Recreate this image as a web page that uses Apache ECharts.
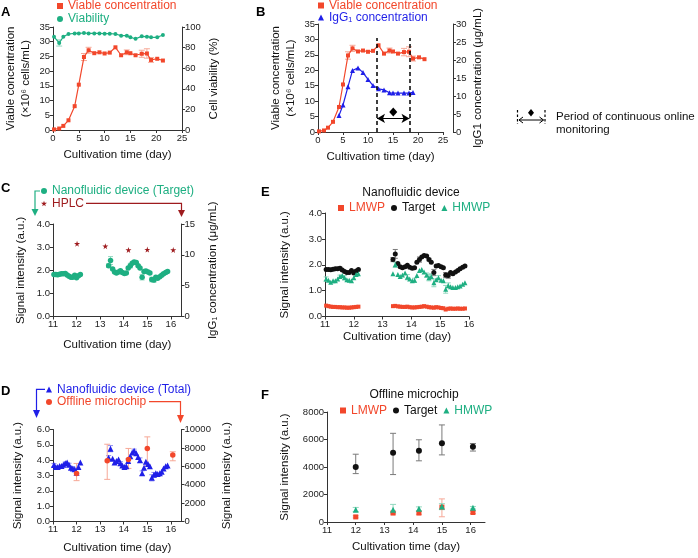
<!DOCTYPE html>
<html><head><meta charset="utf-8">
<script src="https://cdn.jsdelivr.net/npm/echarts@6/dist/echarts.min.js"></script>
<style>html,body{margin:0;padding:0;background:#fff}#c{width:698px;height:558px}</style>
</head><body><div id="c"></div>
<script>
// ---------- DATA ----------
// Panel A / B : batch culture
const daysA = [0.2,1.2,2,3,4.2,5,6,6.9,8,9,10,11,12.1,13.2,14.3,15,16,17.2,18.2,19,20.2,21.3];
const viableConc = [0.2,0.5,1.4,3.3,8.1,15.4,24.8,27.1,26.1,26.4,26.0,26.3,28.1,25.4,26.4,26.1,25.4,25.9,26.0,23.8,24.2,23.6];
const viableErr  = [0,0,0,0,0,0,1.2,1.0,0,0,0,0,0,0,0.8,0,0,1.2,1.6,0.8,0,0];
const viability  = [90.5,84.5,90.5,93.2,93.8,93.8,94.2,93.8,93.8,93.8,93.5,93.5,93.2,91.6,91.6,90.0,88.6,90.9,90.6,90.0,90.0,92.2];
const viabilityErr = [0,3,0,0,0,0,0,0,0,0,0,0,0,0,0,0,0,0,0,0,0,0];
const daysIgG = [4.2,5,6,6.9,8,9,10,11,12.1,13.2,14.3,15,16,17.2,18.2,19];
const iggConc = [4.6,7.5,12.6,17.1,17.8,16.5,14.6,12.9,12.0,11.7,10.9,10.8,10.8,10.8,10.8,11.0];
const monitorStart = 11.8, monitorEnd = 18.3;

// Online nanofluidic measurements (days 11-16)
const tOnline = [11.04,11.12,11.20,11.28,11.36,11.44,11.52,11.60,11.68,11.76,11.84,11.92,12.00,12.08,12.16,
  13.36,13.44,13.53,13.61,13.69,13.78,13.86,13.94,14.03,14.11,14.19,14.28,14.36,14.44,14.53,14.61,14.69,14.78,14.86,14.94,15.03,15.11,15.19,15.28,15.36,15.44,15.53,15.61,15.69,15.78,15.86];
const target = [1.82,1.82,1.81,1.83,1.85,1.85,1.86,1.80,1.74,1.70,1.70,1.78,1.68,1.76,1.82,
  2.20,2.42,2.05,1.92,1.88,1.92,1.98,1.90,1.86,1.88,2.10,2.20,2.30,2.36,2.34,2.20,2.10,1.70,1.95,1.97,1.92,1.88,1.60,1.58,1.70,1.65,1.72,1.78,1.85,1.90,1.95];
const targetErr = [0,0,0,0,0,0,0.05,0,0,0,0,0,0,0,0,
  0.08,0.17,0,0,0,0,0,0,0,0,0,0.1,0,0,0,0.05,0,0.12,0,0,0,0,0.1,0.1,0,0,0,0,0,0,0];
const hmwp = [1.45,1.40,1.32,1.38,1.38,1.45,1.55,1.58,1.50,1.42,1.40,1.38,1.50,1.62,1.65,
  1.65,2.00,1.62,1.55,1.60,1.68,1.52,1.45,1.38,1.40,1.58,1.78,1.82,1.72,1.60,1.50,1.55,1.30,1.42,1.50,1.40,1.38,1.05,1.20,1.15,1.12,1.12,1.15,1.18,1.25,1.30];
const hmwpErr = [0.08,0,0,0,0,0,0.05,0,0.08,0,0,0,0,0,0,
  0,0.1,0,0,0,0,0.1,0,0,0.08,0,0,0,0,0.08,0.12,0.1,0.15,0,0.08,0,0,0.15,0.1,0,0,0,0,0,0,0];
const lmwp = [0.42,0.40,0.38,0.37,0.37,0.36,0.36,0.35,0.35,0.34,0.34,0.35,0.36,0.37,0.38,
  0.40,0.41,0.39,0.38,0.37,0.37,0.38,0.36,0.35,0.35,0.36,0.37,0.38,0.40,0.38,0.36,0.35,0.34,0.36,0.35,0.33,0.32,0.27,0.30,0.31,0.30,0.30,0.31,0.30,0.30,0.31];
const total = [3.68,3.55,3.55,3.62,3.62,3.70,3.80,3.85,3.70,3.50,3.45,3.40,3.18,3.55,3.85,
  4.15,4.75,4.10,3.85,3.95,4.05,3.80,3.65,3.55,3.60,3.95,4.25,4.50,4.62,4.45,4.20,4.00,3.15,3.50,3.90,3.75,3.60,2.85,3.05,3.15,3.10,3.15,3.25,3.45,3.60,3.65];
const totalErr = [0.1,0,0,0,0,0,0.08,0,0.1,0,0.12,0,0,0,0,
  0.15,0.2,0,0,0,0,0.1,0,0.12,0,0.15,0,0,0.1,0,0,0.15,0.15,0,0,0,0,0.2,0.15,0,0,0,0,0,0,0];

// HPLC (IgG1 µg/mL)
const hplcDays = [12.02,13.22,14.2,15.0,16.1];
const hplc = [11.8,11.4,10.8,10.85,10.8];

// Offline microchip
const offDays = [12.0,13.3,14.2,15.0,16.08];
const offTotal = [5230,6600,6750,7940,7220];
const offTotalLow = [4440,4580,5770,6130,6600];
const offTotalHigh = [6310,8400,7940,9200,7580];
const offTarget = [4000,5030,5180,5730,5470];
const offTargetLow = [3520,3450,4450,4880,5160];
const offTargetHigh = [4930,6450,5980,7060,5710];
const offLmwp = [370,650,650,1080,690];
const offLmwpLow = [300,580,560,380,620];
const offLmwpHigh = [450,780,760,1680,800];
const offHmwp = [900,900,960,1130,1030];
const offHmwpLow = [760,650,820,900,950];
const offHmwpHigh = [1060,1280,1100,1330,1130];

// ---------- STYLE ----------
const FONT = '"Liberation Sans", Arial, Helvetica, sans-serif';
const RED = '#F2472B', GREEN = '#1EAF82', BLUE = '#1F1FE8', DARKRED = '#9E1B1E', BLACK = '#111111';
const RED_L = '#F6A897', GREEN_L = '#92D8BF', BLUE_L = '#8F8FF2', GRAY = '#7a7a7a';
const STAR = 'path://M50,0 L61,35 L98,35 L68,57 L79,91 L50,70 L21,91 L32,57 L2,35 L39,35 Z';

const zip = (xs, ys) => xs.map((x, i) => [x, ys[i]]);
const AX = '#333';
const plain = v => String(v);
function xAx(gi, min, max, interval, name, gap, hideMax) {
  return {
    type: 'value', gridIndex: gi, min, max, interval, name, nameLocation: 'middle', nameGap: gap,
    nameTextStyle: { fontSize: 11.5, color: '#111', fontFamily: FONT },
    axisLine: { show: true, onZero: false, lineStyle: { color: AX, width: 1 } },
    axisTick: { show: true, length: 3, lineStyle: { color: AX } },
    axisLabel: { fontSize: 9.5, color: '#222', margin: 3, fontFamily: FONT, formatter: plain, showMaxLabel: !hideMax },
    splitLine: { show: false }
  };
}
function yAx(gi, pos, min, max, interval, name, gap, fmt, extra) {
  const a = {
    type: 'value', gridIndex: gi, position: pos, min, max, interval, name, nameLocation: 'middle', nameGap: gap,
    nameTextStyle: { fontSize: 11.5, color: '#111', fontFamily: FONT, lineHeight: 15 },
    axisLine: { show: true, onZero: false, lineStyle: { color: AX, width: 1 } },
    axisTick: { show: true, length: 3, lineStyle: { color: AX } },
    axisLabel: { fontSize: 9.5, color: '#222', margin: 3, fontFamily: FONT, formatter: fmt || plain },
    splitLine: { show: false }
  };
  return Object.assign(a, extra || {});
}
const f1 = v => v.toFixed(1);

function errSeries(xi, yi, xs, lows, highs, color, cap) {
  const data = [];
  xs.forEach((x, i) => { if (highs[i] > lows[i]) data.push([x, lows[i], highs[i]]); });
  return {
    type: 'custom', xAxisIndex: xi, yAxisIndex: yi, data, z: 1, silent: true, clip: false,
    encode: { x: 0, y: [1, 2] },
    renderItem(params, api) {
      const x = api.value(0);
      const lo = api.coord([x, api.value(1)]), hi = api.coord([x, api.value(2)]);
      const st = { stroke: color, lineWidth: 1 };
      return { type: 'group', children: [
        { type: 'line', shape: { x1: lo[0], y1: lo[1], x2: hi[0], y2: hi[1] }, style: st },
        { type: 'line', shape: { x1: lo[0] - cap, y1: lo[1], x2: lo[0] + cap, y2: lo[1] }, style: st },
        { type: 'line', shape: { x1: hi[0] - cap, y1: hi[1], x2: hi[0] + cap, y2: hi[1] }, style: st }
      ] };
    }
  };
}
const minus = (v, e) => v.map((x, i) => x - e[i]);
const plus = (v, e) => v.map((x, i) => x + e[i]);

function leg(left, top, items, orient, gap) {
  return {
    left, top, padding: 0, orient: orient || 'vertical', itemGap: gap || 0, itemWidth: 6, itemHeight: 6,
    selectedMode: false, textStyle: { fontSize: 12, fontFamily: FONT },
    data: items.map(it => ({ name: it[0], icon: it[1], textStyle: { color: it[2], fontSize: 12, fontFamily: FONT } }))
  };
}

const option = {
  animation: false,
  backgroundColor: '#fff',
  textStyle: { fontFamily: FONT },
  grid: [
    { left: 53, top: 27, width: 129, height: 103 },   // A
    { left: 318, top: 24, width: 125, height: 108 },  // B
    { left: 53, top: 224, width: 128.5, height: 92.5 }, // C
    { left: 53, top: 429.5, width: 128.5, height: 92 }, // D
    { left: 325, top: 213, width: 144, height: 103.5 }, // E
    { left: 327, top: 412, width: 158, height: 110 }    // F
  ],
  xAxis: [
    xAx(0, 0, 25, 5, 'Cultivation time (day)', 19),
    xAx(1, 0, 25, 5, 'Cultivation time (day)', 19),
    xAx(2, 11, 16.45, 1, 'Cultivation time (day)', 22, true),
    xAx(3, 11, 16.45, 1, 'Cultivation time (day)', 20, true),
    xAx(4, 11, 16, 1, 'Cultivation time (day)', 14),
    xAx(5, 11, 16.5, 1, 'Cultivation time (day)', 19, true)
  ],
  yAxis: [
    yAx(0, 'left', 0, 35, 5, 'Viable concentration\n(×10⁶ cells/mL)', 20),
    yAx(0, 'right', 0, 100, 20, 'Cell viability (%)', 24),
    yAx(1, 'left', 0, 35, 5, 'Viable concentration\n(×10⁶ cells/mL)', 20),
    yAx(1, 'right', 0, 30, 5, 'IgG1 concentration (μg/mL)', 14, null, { offset: 10 }),
    yAx(2, 'left', 0, 4, 1, 'Signal intensity (a.u.)', 25, f1),
    yAx(2, 'right', 0, 15, 5, 'IgG₁ concentration (μg/mL)', 24),
    yAx(3, 'left', 0, 6, 1, 'Signal intensity (a.u.)', 28, f1),
    yAx(3, 'right', 0, 10000, 2000, 'Signal intensity (a.u.)', 38),
    yAx(4, 'left', 0, 4, 1, 'Signal intensity (a.u.)', 33, f1),
    yAx(5, 'left', 0, 8000, 2000, 'Signal intensity (a.u.)', 35)
  ],
  legend: [
    leg(57, 0, [['Viable concentration', 'rect', RED]]),
    leg(57, 13, [['Viability', 'circle', GREEN]]),
    leg(318, -0.5, [['Viable concentration', 'rect', RED]]),
    leg(318, 11.5, [['IgG₁ concentration', 'triangle', BLUE]]),
    leg(41, 185, [['Nanofluidic device (Target)', 'circle', GREEN]]),
    leg(41, 197.5, [['HPLC', STAR, DARKRED]]),
    leg(46, 383.5, [['Nanofluidic device (Total)', 'triangle', BLUE]]),
    leg(46, 396, [['Offline microchip', 'circle', RED]]),
    leg(338, 202, [['LMWP', 'rect', RED], ['Target', 'circle', BLACK], ['HMWP', 'triangle', GREEN]], 'horizontal', 6),
    leg(340, 404.5, [['LMWP', 'rect', RED], ['Target', 'circle', BLACK], ['HMWP', 'triangle', GREEN]], 'horizontal', 6)
  ],
  series: [
    // A
    errSeries(0, 0, daysA, minus(viableConc, viableErr), plus(viableConc, viableErr), RED_L, 3),
    errSeries(0, 1, daysA, minus(viability, viabilityErr), plus(viability, viabilityErr), GREEN_L, 3),
    { name: 'Viable concentration', type: 'line', xAxisIndex: 0, yAxisIndex: 0, data: zip(daysA, viableConc),
      symbol: 'rect', symbolSize: 4, lineStyle: { width: 1.2, color: RED }, itemStyle: { color: RED } },
    { name: 'Viability', type: 'line', xAxisIndex: 0, yAxisIndex: 1, data: zip(daysA, viability),
      symbol: 'circle', symbolSize: 4, lineStyle: { width: 1.2, color: GREEN }, itemStyle: { color: GREEN } },
    // B
    errSeries(1, 2, daysA, minus(viableConc, viableErr), plus(viableConc, viableErr), RED_L, 3),
    { name: 'Viable concentration', type: 'line', xAxisIndex: 1, yAxisIndex: 2, data: zip(daysA, viableConc),
      symbol: 'rect', symbolSize: 4, lineStyle: { width: 1.2, color: RED }, itemStyle: { color: RED },
      markLine: {
        silent: true, symbol: ['none', 'none'], label: { show: false },
        lineStyle: { color: '#000', type: [4, 3], width: 1.5 },
        data: [
          [{ coord: [monitorStart, 0] }, { coord: [monitorStart, 30.5] }],
          [{ coord: [monitorEnd, 0] }, { coord: [monitorEnd, 30.5] }],
          [{ coord: [monitorStart, 4.4], symbol: 'arrow', symbolSize: [7, 8], lineStyle: { type: 'solid', width: 1.2, color: '#000' } },
           { coord: [monitorEnd, 4.4], symbol: 'arrow', symbolSize: [7, 8], lineStyle: { type: 'solid', width: 1.2, color: '#000' } }]
        ]
      },
      markPoint: {
        silent: true, label: { show: false },
        data: [{ coord: [(monitorStart + monitorEnd) / 2, 6.5], symbol: 'diamond', symbolSize: [8, 9], itemStyle: { color: '#000' } }]
      }
    },
    { name: 'IgG₁ concentration', type: 'line', xAxisIndex: 1, yAxisIndex: 3, data: zip(daysIgG, iggConc),
      symbol: 'triangle', symbolSize: 5, lineStyle: { width: 1.2, color: BLUE }, itemStyle: { color: BLUE } },
    // C
    errSeries(2, 4, tOnline, minus(target, targetErr), plus(target, targetErr), GREEN_L, 2.5),
    { name: 'Nanofluidic device (Target)', type: 'scatter', xAxisIndex: 2, yAxisIndex: 4, data: zip(tOnline, target),
      symbol: 'circle', symbolSize: 5.5, itemStyle: { color: GREEN, opacity: 1 } },
    { name: 'HPLC', type: 'scatter', xAxisIndex: 2, yAxisIndex: 5, data: zip(hplcDays, hplc),
      symbol: STAR, symbolSize: 6, itemStyle: { color: DARKRED, opacity: 1 } },
    // D
    errSeries(3, 6, tOnline, minus(total, totalErr), plus(total, totalErr), BLUE_L, 2.5),
    errSeries(3, 7, offDays, offTotalLow, offTotalHigh, RED_L, 3),
    { name: 'Nanofluidic device (Total)', type: 'scatter', xAxisIndex: 3, yAxisIndex: 6, data: zip(tOnline, total),
      symbol: 'triangle', symbolSize: 6, itemStyle: { color: BLUE, opacity: 1 } },
    { name: 'Offline microchip', type: 'scatter', xAxisIndex: 3, yAxisIndex: 7, data: zip(offDays, offTotal),
      symbol: 'circle', symbolSize: 5.5, itemStyle: { color: RED, opacity: 1 } },
    // E
    errSeries(4, 8, tOnline, minus(target, targetErr), plus(target, targetErr), GRAY, 2.5),
    errSeries(4, 8, tOnline, minus(hmwp, hmwpErr), plus(hmwp, hmwpErr), GREEN_L, 2.5),
    { name: 'LMWP', type: 'scatter', xAxisIndex: 4, yAxisIndex: 8, data: zip(tOnline, lmwp),
      symbol: 'rect', symbolSize: 4, itemStyle: { color: RED, opacity: 1 } },
    { name: 'Target', type: 'scatter', xAxisIndex: 4, yAxisIndex: 8, data: zip(tOnline, target),
      symbol: 'circle', symbolSize: 5, itemStyle: { color: BLACK, opacity: 1 } },
    { name: 'HMWP', type: 'scatter', xAxisIndex: 4, yAxisIndex: 8, data: zip(tOnline, hmwp),
      symbol: 'triangle', symbolSize: 5, itemStyle: { color: GREEN, opacity: 1 } },
    // F
    errSeries(5, 9, offDays, offTargetLow, offTargetHigh, GRAY, 3),
    errSeries(5, 9, offDays, offLmwpLow, offLmwpHigh, RED_L, 3),
    errSeries(5, 9, offDays, offHmwpLow, offHmwpHigh, GREEN_L, 3),
    { name: 'LMWP', type: 'scatter', xAxisIndex: 5, yAxisIndex: 9, data: zip(offDays, offLmwp),
      symbol: 'rect', symbolSize: 5, itemStyle: { color: RED, opacity: 1 } },
    { name: 'Target', type: 'scatter', xAxisIndex: 5, yAxisIndex: 9, data: zip(offDays, offTarget),
      symbol: 'circle', symbolSize: 6, itemStyle: { color: BLACK, opacity: 1 } },
    { name: 'HMWP', type: 'scatter', xAxisIndex: 5, yAxisIndex: 9, data: zip(offDays, offHmwp),
      symbol: 'triangle', symbolSize: 6, itemStyle: { color: GREEN, opacity: 1 } }
  ],
  graphic: [
    // panel letters
    { type: 'text', left: 1, top: 6, style: { text: 'A', font: 'bold 13px ' + FONT, fill: '#000' } },
    { type: 'text', left: 256, top: 6, style: { text: 'B', font: 'bold 13px ' + FONT, fill: '#000' } },
    { type: 'text', left: 1, top: 182, style: { text: 'C', font: 'bold 13px ' + FONT, fill: '#000' } },
    { type: 'text', left: 1, top: 385, style: { text: 'D', font: 'bold 13px ' + FONT, fill: '#000' } },
    { type: 'text', left: 261, top: 186, style: { text: 'E', font: 'bold 13px ' + FONT, fill: '#000' } },
    { type: 'text', left: 261, top: 389, style: { text: 'F', font: 'bold 13px ' + FONT, fill: '#000' } },
    // E / F titles
    { type: 'text', x: 411, y: 193, style: { text: 'Nanofluidic device', font: '12px ' + FONT, fill: '#111', align: 'center', verticalAlign: 'middle' } },
    { type: 'text', x: 414, y: 395, style: { text: 'Offline microchip', font: '12px ' + FONT, fill: '#111', align: 'center', verticalAlign: 'middle' } },
    // C brackets
    { type: 'polyline', shape: { points: [[40, 191], [35, 191], [35, 210]] }, style: { stroke: GREEN, lineWidth: 1.2, fill: null } },
    { type: 'polygon', shape: { points: [[31.5, 209], [38.5, 209], [35, 216]] }, style: { fill: GREEN } },
    { type: 'polyline', shape: { points: [[86, 203.3], [181.5, 203.3], [181.5, 211]] }, style: { stroke: DARKRED, lineWidth: 1.2, fill: null } },
    { type: 'polygon', shape: { points: [[178, 210], [185, 210], [181.5, 217]] }, style: { fill: DARKRED } },
    // D brackets
    { type: 'polyline', shape: { points: [[45, 389.3], [36.5, 389.3], [36.5, 411]] }, style: { stroke: BLUE, lineWidth: 1.2, fill: null } },
    { type: 'polygon', shape: { points: [[33, 410], [40, 410], [36.5, 418]] }, style: { fill: BLUE } },
    { type: 'polyline', shape: { points: [[149, 401.7], [180.5, 401.7], [180.5, 416]] }, style: { stroke: RED, lineWidth: 1.2, fill: null } },
    { type: 'polygon', shape: { points: [[177, 415], [184, 415], [180.5, 423]] }, style: { fill: RED } },
    // period legend
    { type: 'line', shape: { x1: 517.5, y1: 110, x2: 517.5, y2: 124 }, style: { stroke: '#000', lineWidth: 1.2, lineDash: [2.5, 2] } },
    { type: 'line', shape: { x1: 545, y1: 110, x2: 545, y2: 124 }, style: { stroke: '#000', lineWidth: 1.2, lineDash: [2.5, 2] } },
    { type: 'line', shape: { x1: 519, y1: 120, x2: 543.5, y2: 120 }, style: { stroke: '#000', lineWidth: 1 } },
    { type: 'polyline', shape: { points: [[523, 117], [519, 120], [523, 123]] }, style: { stroke: '#000', lineWidth: 1, fill: null } },
    { type: 'polyline', shape: { points: [[539.5, 117], [543.5, 120], [539.5, 123]] }, style: { stroke: '#000', lineWidth: 1, fill: null } },
    { type: 'polygon', shape: { points: [[531, 109], [534, 112.7], [531, 116.4], [528, 112.7]] }, style: { fill: '#000' } },
    { type: 'text', left: 556, top: 110, style: { text: 'Period of continuous online\nmonitoring', font: '11.5px ' + FONT, fill: '#111', lineHeight: 13 } }
  ]
};

const chart = echarts.init(document.getElementById('c'), null, { renderer: 'canvas' });
chart.setOption(option);
</script>
</body></html>
